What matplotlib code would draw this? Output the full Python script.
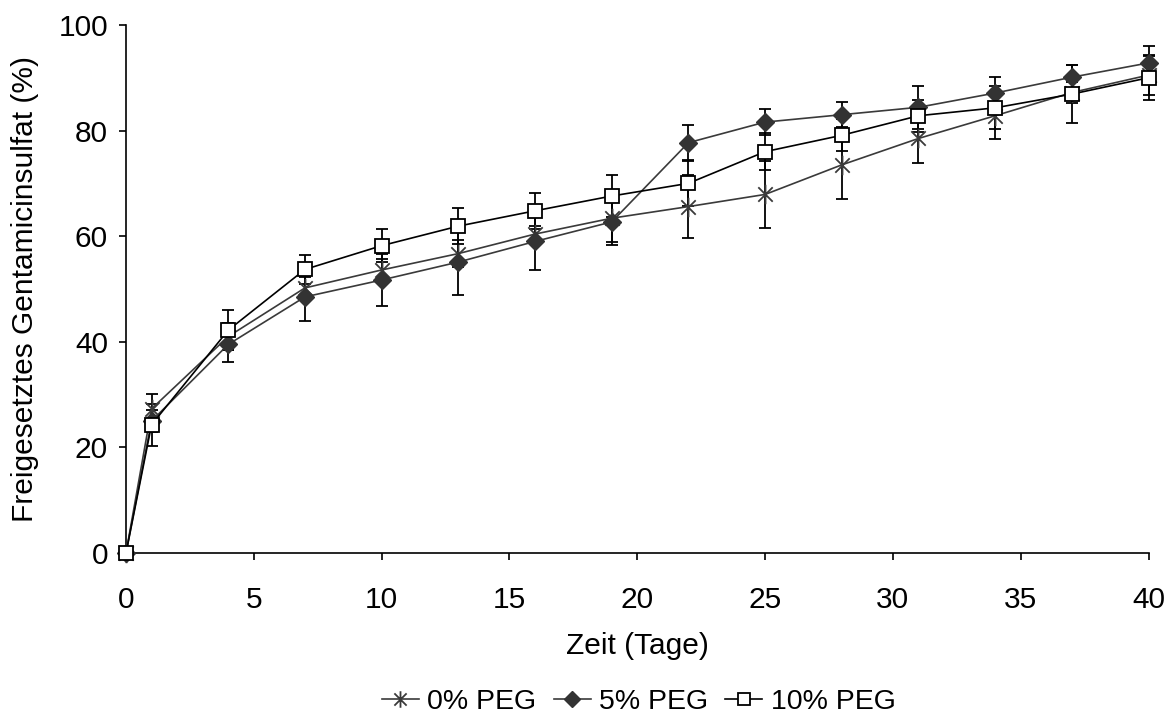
import numpy as np
import matplotlib.pyplot as plt
from matplotlib.path import Path

plt.rcParams['font.family'] = ['Liberation Sans', 'DejaVu Sans']

# Data
tage = [0, 1, 4, 7, 10, 13, 16, 19, 22, 25, 28, 31, 34, 37, 40]

peg0 = [0, 27.3, 41.0, 50.2, 53.6, 56.7, 60.4, 63.4, 65.6, 67.9, 73.5, 78.5, 82.8, 87.2, 90.5]
peg0_err = [0, 2.9, 2.5, 2.0, 2.0, 2.5, 1.5, 4.5, 6.0, 6.3, 6.5, 4.7, 4.4, 2.0, 3.7]

peg5 = [0, 25.0, 39.5, 48.5, 51.7, 55.1, 59.0, 62.7, 77.7, 81.6, 83.0, 84.4, 87.1, 90.1, 92.8]
peg5_err = [0, 2.0, 3.3, 4.5, 4.9, 6.2, 5.4, 4.4, 3.3, 2.4, 2.4, 4.1, 3.0, 2.3, 3.2]

peg10 = [0, 24.3, 42.2, 53.7, 58.2, 61.9, 64.8, 67.6, 70.0, 76.0, 79.1, 82.8, 84.3, 86.9, 90.0]
peg10_err = [0, 4.0, 3.8, 2.7, 3.1, 3.4, 3.4, 4.0, 4.2, 3.5, 3.0, 3.0, 4.1, 5.5, 4.3]

labels = ['0% PEG', '5% PEG', '10% PEG']

# Excel-like asterisk marker (x with a vertical bar)
star = Path([(-1, -1), (1, 1), (-1, 1), (1, -1), (0, -1.35), (0, 1.35)],
            [Path.MOVETO, Path.LINETO, Path.MOVETO, Path.LINETO, Path.MOVETO, Path.LINETO])

fig = plt.figure(figsize=(11.72, 7.22), dpi=100)
ax = fig.add_axes([0.1075, 0.234, 0.8725, 0.7315])

grey = '#3a3a3a'
styles = [
    dict(marker=star, color=grey, mfc='none', mec=grey, ms=14, mew=1.3),
    dict(marker='D', color=grey, mfc='#333333', mec='#333333', ms=9),
    dict(marker='s', color='black', mfc='white', mec='black', ms=9.5, mew=1.3),
]
series = [(peg0, peg0_err), (peg5, peg5_err), (peg10, peg10_err)]

handles = []
for (vals, err), st, lab in zip(series, styles, labels):
    ax.errorbar(tage, vals, yerr=err, fmt='none', ecolor='black', elinewidth=1.3,
                capsize=4.5, capthick=1.3, clip_on=False, zorder=2)
    h, = ax.plot(tage, vals, lw=1.2, label=lab, clip_on=False, zorder=3, **st)
    handles.append(h)

ax.set_xlim(0, 40)
ax.set_ylim(0, 100)
ax.set_xticks(np.arange(0, 41, 5))
ax.set_yticks(np.arange(0, 101, 20))
for s in ['top', 'right']:
    ax.spines[s].set_visible(False)
for s in ['left', 'bottom']:
    ax.spines[s].set_linewidth(1.2)
ax.tick_params(direction='out', length=5, width=1.2, labelsize=21.5)
ax.tick_params(axis='x', pad=19)
ax.tick_params(axis='y', pad=8)

ax.set_xlabel('Zeit (Tage)', fontsize=21.5, labelpad=13)
ax.set_ylabel('Freigesetztes Gentamicinsulfat (%)', fontsize=21.5, labelpad=14)

fig.legend(handles=handles, loc='center', bbox_to_anchor=(0.545, 0.028), ncol=3,
           frameon=False, fontsize=20.5, handlelength=1.3, handletextpad=0.3,
           columnspacing=0.6, markerscale=0.85)

fig.savefig('out.png', dpi=100)
